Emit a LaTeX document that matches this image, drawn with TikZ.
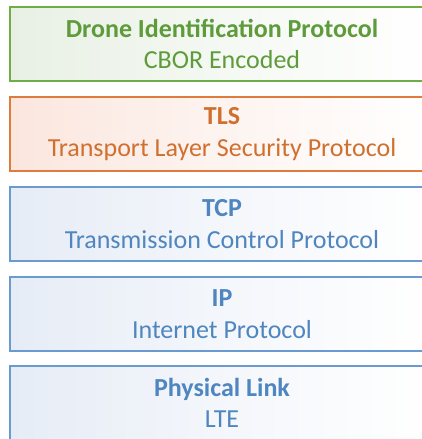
\documentclass[tikz,border=0pt]{standalone}
\usepackage{fontspec}
\setmainfont{Carlito}
\definecolor{gborder}{HTML}{70AD47}
\definecolor{gtext}{HTML}{5E9B3A}
\definecolor{gfill}{HTML}{E8F0E4}
\definecolor{oborder}{HTML}{E07B3E}
\definecolor{otext}{HTML}{D0702F}
\definecolor{ofill}{HTML}{FBE6DE}
\definecolor{bborder}{HTML}{6A9BD0}
\definecolor{btext}{HTML}{4F86BF}
\definecolor{bfill}{HTML}{E6ECF6}
\tikzset{
  boxshade/.style={left color=#1fill, right color=white, middle color=#1fill!45!white},
  boxline/.style={draw=#1border, line width=1.6pt},
  boxtext/.style={text=#1text, align=center, inner sep=0pt,
    font=\fontsize{26}{31.7}\selectfont}
}
\newcommand{\layerbox}[5]{%
  \begin{scope}
    \clip (10,-#2) rectangle (434,-#2-74);
    \shade[boxshade=#1] (10,-#2) rectangle (434,-#2-74);
  \end{scope}
  \draw[boxline=#1] (434,-#2) -- (10,-#2) -- (10,-#2-74) -- (434,-#2-74);
  \draw[boxline=#1, line cap=rect] (10,-#2) -- (10,-#2-74);
  \node[boxtext=#1] (#3) at (222,-#2-37) {\textbf{#4}\\#5};
}
\begin{document}
\begin{tikzpicture}[x=1pt,y=1pt]
\useasboundingbox (0,0) rectangle (422,-439);
\fill[white] (0,0) rectangle (422,-439);
\layerbox{g}{7}{dip}{Drone Identification Protocol}{CBOR Encoded}
\layerbox{o}{97}{tls}{TLS}{Transport Layer Security Protocol}
\layerbox{b}{187}{tcp}{TCP}{Transmission Control Protocol}
\layerbox{b}{277}{ip}{IP}{Internet Protocol}
\layerbox{b}{366}{phy}{Physical Link}{LTE}
\end{tikzpicture}
\end{document}
